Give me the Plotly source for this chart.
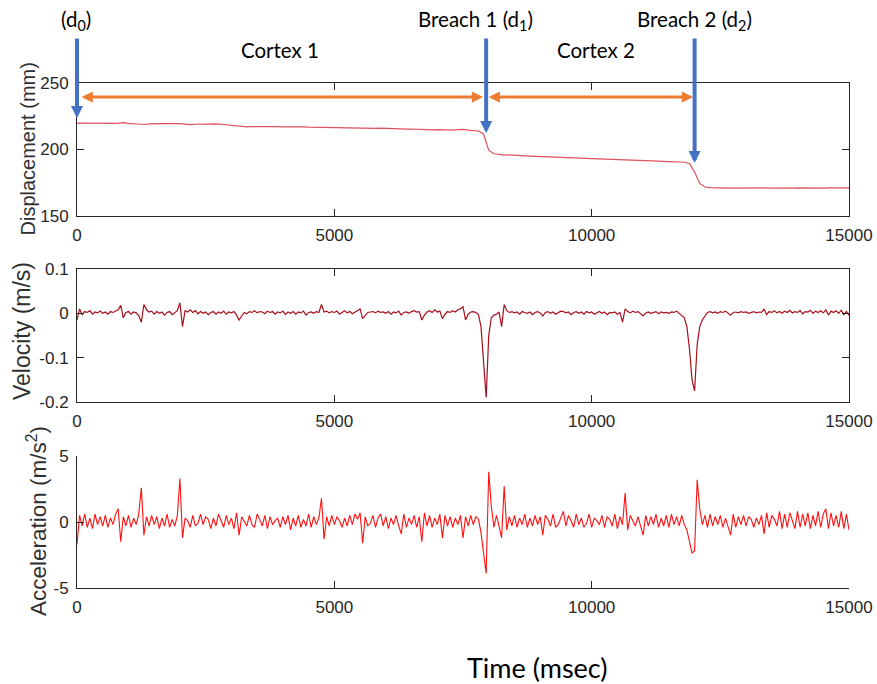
import plotly.graph_objects as go

# ---------------- data ----------------
DISP_STEP_MS = 100
SIG_STEP_MS = 50

displacement_mm = [
    219.8, 219.7, 219.8, 219.6, 219.7, 219.6, 219.5, 219.6, 219.8, 220.2,
    219.6, 219.4, 219.2, 218.8, 219.2, 219.4, 219.3, 219.5, 219.4, 219.6,
    219.4, 219.1, 218.7, 219.0, 219.2, 219.4, 219.5, 219.3, 219.0, 218.6,
    218.2, 217.7, 217.3, 217.0, 217.2, 217.3, 217.1, 217.2, 217.4, 217.2,
    217.0, 217.1, 216.9, 216.8, 217.0, 216.8, 216.7, 216.6, 216.8, 216.6,
    216.5, 216.6, 216.4, 216.5, 216.3, 216.1, 216.2, 216.0, 215.9, 216.0,
    215.8, 215.6, 215.7, 215.5, 215.3, 215.4, 215.2, 215.0, 214.9, 214.8,
    215.0, 214.7, 214.5, 214.6, 214.9, 215.1, 214.5, 214.2, 213.9, 211.5,
    199.5, 196.8, 196.2, 195.8, 195.9, 195.5, 195.3, 195.2, 195.0, 194.9,
    194.7, 194.6, 194.4, 194.3, 194.1, 194.0, 193.8, 193.7, 193.5, 193.4,
    193.2, 193.1, 192.9, 192.8, 192.6, 192.5, 192.3, 192.2, 192.0, 191.9,
    191.7, 191.6, 191.4, 191.3, 191.1, 191.0, 190.8, 190.6, 190.4, 189.5,
    183.0, 174.5, 171.8, 171.3, 171.1, 171.0, 171.0, 170.9, 171.0, 171.1,
    171.0, 171.1, 171.3, 171.4, 171.2, 171.0, 170.9, 171.0, 170.9, 171.0,
    171.1, 171.0, 171.1, 171.2, 171.1, 171.0, 171.1, 171.2, 171.1, 171.0,
    171.1,
]

velocity_ms = [
    -0.015, 0.010, -0.003, 0.004, 0.002, 0.006, -0.002, 0.003, 0.001, 0.005,
    0.000, 0.003, -0.002, 0.004, 0.002, 0.005, 0.008, 0.018, -0.010, 0.002,
    0.004, -0.002, 0.003, 0.001, -0.005, -0.020, 0.020, 0.008, 0.003, 0.005,
    -0.002, 0.004, 0.000, 0.003, -0.004, 0.002, 0.004, -0.003, 0.001, 0.006,
    0.024, -0.030, 0.006, 0.003, 0.008, 0.002, 0.006, -0.001, 0.004, 0.000,
    0.003, -0.003, 0.002, 0.004, -0.002, 0.003, 0.000, 0.005, -0.002, 0.003,
    0.001, 0.004, -0.004, -0.015, -0.006, 0.002, -0.001, 0.004, 0.002, 0.006,
    0.001, 0.004, 0.003, -0.001, 0.005, 0.002, 0.004, -0.002, 0.003, 0.001,
    0.005, -0.003, 0.003, 0.000, 0.004, -0.002, 0.003, 0.001, 0.005, -0.004,
    0.002, 0.003, 0.000, 0.004, 0.002, 0.020, 0.003, 0.005, 0.001, 0.004,
    0.002, 0.005, -0.002, 0.003, 0.006, 0.001, 0.004, -0.001, 0.003, 0.008,
    0.010, -0.012, -0.004, 0.002, 0.003, 0.004, 0.001, 0.005, 0.002, 0.003,
    0.000, 0.004, -0.002, 0.003, 0.001, 0.005, -0.004, 0.002, 0.003, 0.000,
    0.004, 0.006, 0.003, 0.004, -0.015, -0.004, 0.003, 0.006, 0.002, 0.008,
    0.003, 0.005, -0.012, -0.002, 0.004, 0.002, 0.006, 0.003, 0.008, 0.010,
    0.015, -0.015, -0.002, 0.003, 0.004, 0.002, -0.003, -0.030, -0.110, -0.190,
    -0.050, -0.010, -0.004, -0.002, 0.003, -0.030, 0.020, 0.006, 0.002, 0.004,
    0.001, 0.003, -0.002, 0.004, 0.002, 0.000, 0.003, -0.003, 0.002, 0.004,
    0.001, -0.006, 0.002, 0.004, 0.000, 0.003, -0.002, 0.002, 0.005, 0.004,
    0.001, 0.003, -0.003, 0.002, 0.004, 0.000, 0.003, -0.002, 0.004, 0.001,
    0.003, -0.002, 0.002, 0.004, 0.000, 0.003, -0.003, 0.002, 0.001, 0.003,
    -0.002, 0.002, -0.020, 0.010, 0.004, 0.001, 0.005, 0.002, 0.004, 0.000,
    -0.006, 0.001, 0.003, 0.000, 0.002, 0.004, -0.001, 0.003, 0.001, 0.002,
    0.000, 0.003, 0.002, 0.005, 0.000, -0.005, -0.010, -0.030, -0.080, -0.150,
    -0.175, -0.070, -0.030, -0.015, -0.005, 0.002, 0.004, 0.001, 0.003, 0.000,
    0.004, 0.002, 0.005, 0.001, -0.004, 0.002, 0.003, 0.001, 0.004, 0.002,
    0.003, 0.000, 0.002, 0.004, 0.001, 0.003, 0.002, 0.010, -0.003, 0.004,
    0.002, 0.006, 0.001, 0.004, 0.000, 0.005, 0.002, 0.007, 0.001, 0.004,
    0.002, 0.006, -0.001, 0.004, 0.003, 0.007, 0.000, 0.005, 0.002, 0.006,
    0.001, 0.008, -0.004, 0.005, 0.002, 0.006, 0.000, 0.007, -0.003, 0.004,
    -0.005,
]

acceleration_ms2 = [
    -1.7, 0.5, -0.3, 0.6, -0.4, 0.3, -0.5, 0.6, -0.2, 0.4,
    -0.3, 0.5, -0.4, 0.3, -0.2, 0.6, 1.0, -1.5, 0.4, -0.3,
    0.5, -0.4, 0.3, -0.2, 0.6, 2.6, -1.0, 0.4, -0.3, 0.5,
    -0.2, 0.4, -0.5, 0.3, -0.3, 0.6, -0.4, 0.2, -0.3, 0.5,
    3.3, -1.2, 0.3, 0.1, -0.4, 0.5, -0.3, -0.1, 0.6, -0.2,
    0.4, 0.2, -0.5, 0.3, -0.3, 0.6, 0.1, -0.4, 0.5, -0.2,
    0.3, -0.5, 0.7, -1.0, 0.4, 0.1, -0.3, 0.5, -0.2, -0.4,
    0.6, 0.2, -0.3, 0.5, -0.5, 0.4, -0.2, 0.1, 0.3, -0.4,
    0.4, -0.2, 0.5, -0.6, 0.3, -0.3, 0.5, -0.4, 0.2, -0.3,
    0.6, -0.4, 0.4, -0.2, 0.3, 1.8, -1.3, 0.4, -0.3, 0.5,
    -0.2, 0.4, 0.1, -0.4, 0.3, -0.3, 0.5, -0.2, 0.6, 0.2,
    0.7, -1.6, 0.4, -0.3, -0.1, 0.5, -0.4, 0.3, 0.6, -0.3,
    0.4, -0.5, 0.3, -0.2, 0.5, -0.3, -0.9, 0.6, -0.4, 0.3,
    -0.2, 0.5, -0.4, 0.4, -1.5, 0.7, -0.3, 0.5, -0.4, 0.3,
    -0.2, 0.6, -1.2, 0.5, -0.3, 0.4, -0.4, 0.3, -0.2, 0.5,
    -1.2, 0.4, -0.3, 0.5, -0.2, 0.4, 0.2, -0.8, -2.5, -3.9,
    3.8, 1.2, -0.4, 0.5, -0.3, -1.2, 2.7, -0.6, 0.4, -0.3,
    0.5, -0.4, 0.3, -0.2, 0.6, -0.4, 0.3, -0.3, 0.5, -0.2,
    0.4, -1.0, 0.5, 0.2, -0.3, 0.6, -0.4, -0.2, 0.3, 0.8,
    -0.3, 0.5, 0.1, -0.4, 0.6, -0.2, 0.3, -0.4, -0.1, 0.6,
    -0.4, 0.3, 0.1, -0.2, 0.5, -0.4, 0.4, 0.2, -0.3, 0.6,
    -0.5, 0.4, -0.2, 2.2, -0.6, 0.5, 0.1, -0.3, 0.4, -0.4,
    -1.0, 0.5, -0.3, 0.4, -0.2, 0.6, -0.4, 0.3, -0.3, 0.5,
    -0.4, 0.6, -0.2, 0.4, -0.3, 0.5, -0.2, -0.6, -1.5, -2.35,
    -2.2, 3.2, 1.0, -0.2, 0.5, -0.4, 0.6, -0.3, 0.4, -0.2,
    0.5, -0.4, 0.3, -0.3, -1.0, 0.6, -0.4, 0.4, -0.2, 0.5,
    -0.3, 0.4, 0.2, -0.4, 0.3, -0.2, 0.5, -0.9, 0.7, -0.4,
    0.5, 0.2, -0.3, 0.8, -0.5, 0.6, -0.4, 0.7, 0.1, -0.5,
    0.8, -0.4, 0.6, -0.3, 0.7, -0.5, 0.5, -0.3, 0.8, -0.4,
    0.6, 1.0, -0.5, 0.7, -0.3, 0.5, -0.4, 0.8, -0.5, 0.6,
    -0.6,
]

time_disp = [i * DISP_STEP_MS for i in range(len(displacement_mm))]
time_vel = [i * SIG_STEP_MS for i in range(len(velocity_ms))]
time_acc = [i * SIG_STEP_MS for i in range(len(acceleration_ms2))]

x_tickvals = [0, 5000, 10000, 15000]
x_ticktext = ["0", "5000", "10000", "15000"]
disp_tickvals = [150, 200, 250]
disp_ticktext = ["150", "200", "250"]
vel_tickvals = [-0.2, -0.1, 0, 0.1]
vel_ticktext = ["-0.2", "-0.1", "0", "0.1"]
acc_tickvals = [-5, 0, 5]
acc_ticktext = ["-5", "0", "5"]

event_times = [0, 7950, 12000]          # d0, breach 1, breach 2
event_labels = ["(d<sub>0</sub>)", "Breach 1 (d<sub>1</sub>)", "Breach 2 (d<sub>2</sub>)"]
segment_labels = ["Cortex 1", "Cortex 2"]

# ---------------- layout geometry ----------------
W, H = 877, 684
ML, MR, MT, MB = 77, 28, 83, 96
PW, PH = W - ML - MR, H - MT - MB


def fx(px):
    return (px - ML) / PW


def fy(py):
    return (H - MB - py) / PH


def disp_y(py):
    # pixel row -> displacement value on the top panel
    return 250 - (py - 83) * 100.0 / 133.0


AX_COLOR = "#262626"
SANS = "Liberation Sans, Arial, sans-serif"
TICK_FONT = dict(family=SANS, size=17, color=AX_COLOR)
NOTE_FONT = dict(family="Lato, Open Sans, sans-serif", size=20.5, color="black")

fig = go.Figure()
fig.add_trace(go.Scatter(x=time_disp, y=displacement_mm, mode="lines",
                         line=dict(color="#e0505e", width=1.2), xaxis="x", yaxis="y",
                         showlegend=False, hoverinfo="skip"))
fig.add_trace(go.Scatter(x=time_vel, y=velocity_ms, mode="lines",
                         line=dict(color="#a80f1c", width=1.2), xaxis="x2", yaxis="y2",
                         showlegend=False, hoverinfo="skip"))
fig.add_trace(go.Scatter(x=time_acc, y=acceleration_ms2, mode="lines",
                         line=dict(color="#ff1010", width=1.1), xaxis="x3", yaxis="y3",
                         showlegend=False, hoverinfo="skip"))


def xaxis(anchor, mirror):
    return dict(domain=[0, 1], anchor=anchor, range=[0, 15000], tickvals=x_tickvals,
                ticktext=x_ticktext, ticks="inside", ticklen=7, tickwidth=1,
                tickcolor=AX_COLOR, showline=True, linecolor=AX_COLOR, linewidth=1,
                mirror=mirror, showgrid=False, zeroline=False, tickfont=TICK_FONT,
                ticklabelstandoff=4, automargin=False)


def yaxis(anchor, dom, rng, tv, tt, mirror):
    return dict(domain=dom, anchor=anchor, range=rng, tickvals=tv, ticktext=tt,
                ticks="inside", ticklen=7, tickwidth=1, tickcolor=AX_COLOR,
                showline=True, linecolor=AX_COLOR, linewidth=1, mirror=mirror,
                showgrid=False, zeroline=False, tickfont=TICK_FONT, ticklabelstandoff=4,
                automargin=False)


fig.update_layout(
    width=W, height=H, margin=dict(l=ML, r=MR, t=MT, b=MB, autoexpand=False),
    paper_bgcolor="white", plot_bgcolor="white",
    xaxis=xaxis("y", "ticks"),
    xaxis2=xaxis("y2", "ticks"),
    xaxis3=xaxis("y3", False),
    yaxis=yaxis("x", [fy(216), fy(83)], [150, 250], disp_tickvals, disp_ticktext, "ticks"),
    yaxis2=yaxis("x2", [fy(402), fy(269)], [-0.2, 0.1], vel_tickvals, vel_ticktext, "ticks"),
    yaxis3=yaxis("x3", [fy(588), fy(456)], [-5, 5], acc_tickvals, acc_ticktext, False),
)

ann = []
# y-axis titles
for text, px, py, size in [("Displacement (mm)", 27, 149.5, 20),
                           ("Velocity (m/s)", 22, 331, 23),
                           ("Acceleration (m/s<sup>2</sup>)", 37, 521, 22.5)]:
    ann.append(dict(text=text, xref="paper", yref="paper", x=fx(px), y=fy(py),
                    textangle=-90, showarrow=False,
                    font=dict(family=SANS, size=size, color="#303030"),
                    xanchor="center", yanchor="middle"))

# x-axis title
ann.append(dict(text="Time (msec)", xref="paper", yref="paper", x=fx(537), y=fy(667),
                showarrow=False, font=dict(family="Lato, Open Sans, sans-serif", size=27,
                                           color="black"),
                xanchor="center", yanchor="middle"))

# orange double arrows (segments)
ORANGE = "#ed7d31"
seg_y = disp_y(97)
for x0, x1 in [(event_times[0] + 60, event_times[1] - 60),
               (event_times[1] + 20, event_times[2] - 30)]:
    ann.append(dict(x=x1, y=seg_y, ax=x0, ay=seg_y, xref="x", yref="y", axref="x", ayref="y",
                    text="", showarrow=True, arrowhead=2, startarrowhead=2,
                    arrowside="end+start", arrowwidth=3, arrowsize=0.75,
                    startarrowsize=0.75, arrowcolor=ORANGE, standoff=0, startstandoff=0))

# blue event arrows
BLUE = "#4472c4"
tips = [disp_y(118), disp_y(133), disp_y(163)]
tail_y = disp_y(37)
for t, tip in zip(event_times, tips):
    ann.append(dict(x=t, y=tip, ax=t, ay=tail_y, xref="x", yref="y", axref="x", ayref="y",
                    text="", showarrow=True, arrowhead=2, arrowwidth=4, arrowsize=0.6,
                    arrowcolor=BLUE, standoff=0))

# event and segment text labels
for text, px in zip(event_labels, [76, 475, 694]):
    ann.append(dict(text=text, xref="paper", yref="paper", x=fx(px), y=fy(21),
                    showarrow=False, font=NOTE_FONT, xanchor="center", yanchor="middle"))
for text, px in zip(segment_labels, [280, 596]):
    ann.append(dict(text=text, xref="paper", yref="paper", x=fx(px), y=fy(50),
                    showarrow=False, font=NOTE_FONT, xanchor="center", yanchor="middle"))

fig.update_layout(annotations=ann)
fig.write_html("out.html", config={"displayModeBar": False},
               post_script="document.body.style.margin='0px';")
